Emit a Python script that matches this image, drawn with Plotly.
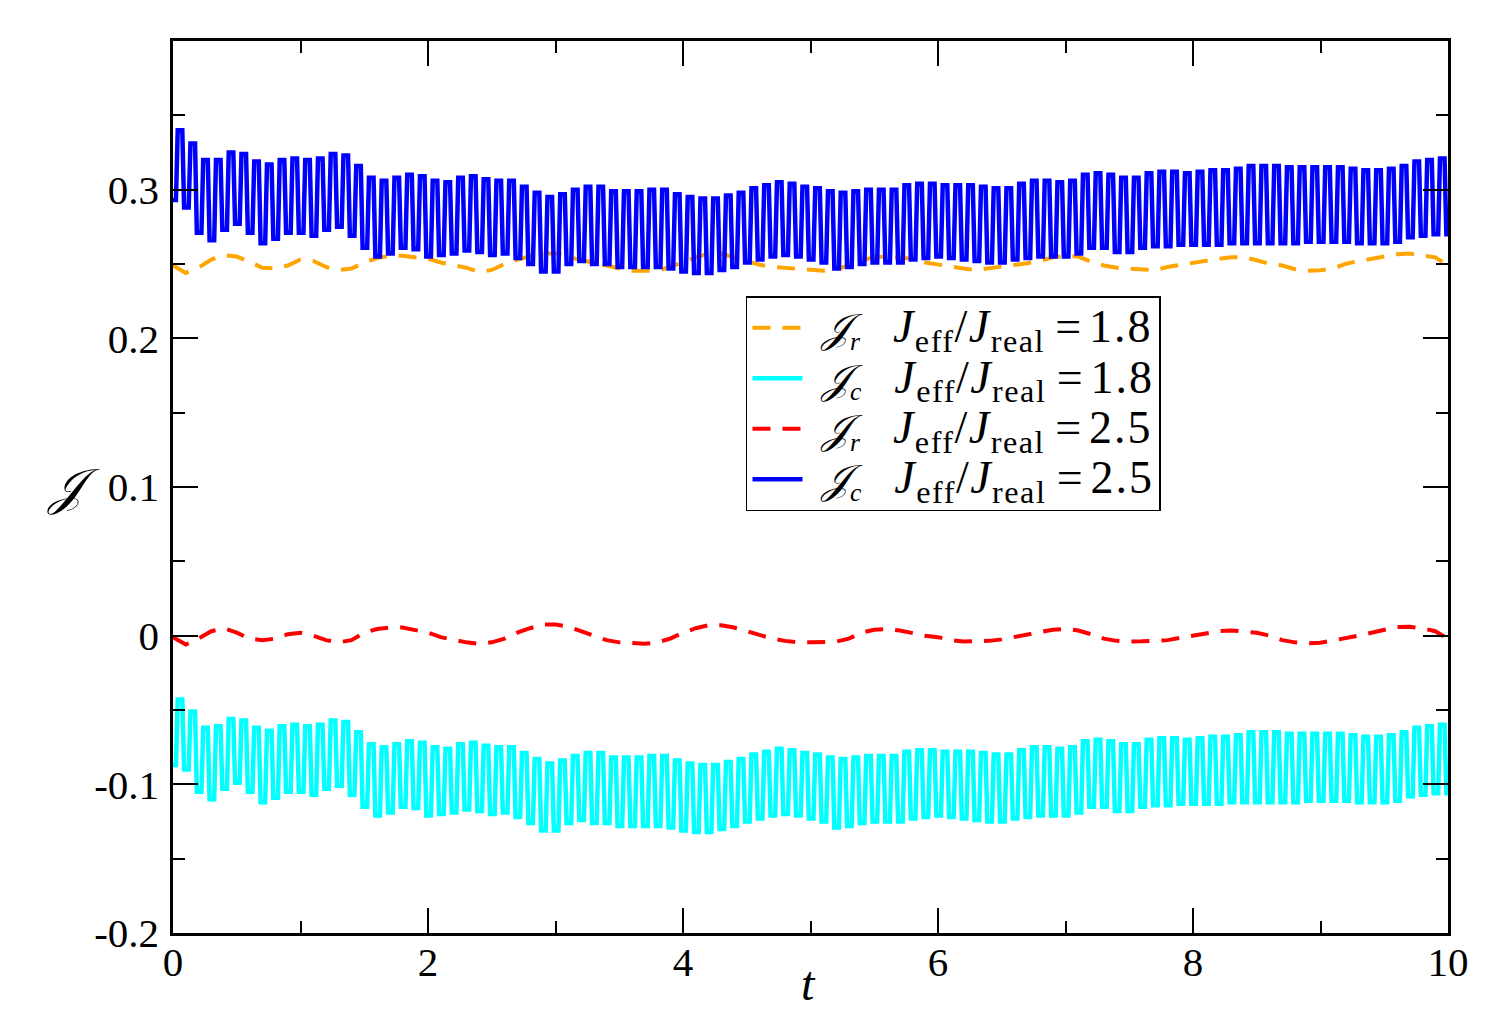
import plotly.graph_objects as go

# ---------------- data ----------------
period = 0.1
first_peak_t = 0.055
blue_start = 0.293
cyan_start = -0.087

blue_high = [0.340, 0.331, 0.320, 0.320, 0.325, 0.324, 0.319, 0.317, 0.320, 0.321,
             0.320, 0.321, 0.324, 0.323, 0.316, 0.308, 0.306, 0.308, 0.310, 0.309,
             0.306, 0.305, 0.308, 0.309, 0.307, 0.306, 0.306, 0.302, 0.298, 0.295,
             0.297, 0.300, 0.302, 0.302, 0.299, 0.299, 0.299, 0.300, 0.300, 0.297,
             0.295, 0.294, 0.294, 0.296, 0.298, 0.301, 0.303, 0.305, 0.304, 0.302,
             0.301, 0.299, 0.298, 0.299, 0.300, 0.300, 0.300, 0.303, 0.304, 0.304,
             0.303, 0.303, 0.303, 0.302, 0.301, 0.301, 0.304, 0.306, 0.306, 0.305,
             0.306, 0.310, 0.311, 0.310, 0.308, 0.308, 0.311, 0.312, 0.312, 0.311,
             0.312, 0.313, 0.313, 0.314, 0.316, 0.316, 0.316, 0.315, 0.315, 0.315,
             0.315, 0.315, 0.314, 0.313, 0.313, 0.314, 0.316, 0.319, 0.320, 0.321]

blue_low = [0.288, 0.271, 0.266, 0.273, 0.277, 0.271, 0.264, 0.267, 0.271, 0.271,
            0.269, 0.273, 0.275, 0.269, 0.261, 0.255, 0.257, 0.261, 0.260, 0.255,
            0.256, 0.257, 0.259, 0.258, 0.256, 0.257, 0.254, 0.250, 0.245, 0.245,
            0.250, 0.252, 0.250, 0.250, 0.248, 0.248, 0.248, 0.248, 0.247, 0.245,
            0.244, 0.244, 0.246, 0.248, 0.251, 0.253, 0.255, 0.256, 0.255, 0.253,
            0.251, 0.247, 0.248, 0.250, 0.251, 0.251, 0.251, 0.253, 0.254, 0.255,
            0.254, 0.253, 0.252, 0.251, 0.251, 0.253, 0.254, 0.255, 0.255, 0.255,
            0.257, 0.261, 0.261, 0.258, 0.258, 0.261, 0.262, 0.262, 0.263, 0.263,
            0.263, 0.263, 0.264, 0.264, 0.264, 0.264, 0.264, 0.264, 0.265, 0.265,
            0.265, 0.265, 0.264, 0.264, 0.264, 0.265, 0.268, 0.269, 0.270, 0.270]

cyan_high = [-0.043, -0.051, -0.062, -0.061, -0.056, -0.057, -0.062, -0.064, -0.061, -0.060,
             -0.061, -0.060, -0.057, -0.058, -0.065, -0.073, -0.075, -0.073, -0.071, -0.072,
             -0.075, -0.076, -0.073, -0.072, -0.074, -0.075, -0.075, -0.079, -0.083, -0.086,
             -0.084, -0.081, -0.079, -0.079, -0.082, -0.082, -0.082, -0.081, -0.081, -0.084,
             -0.086, -0.087, -0.087, -0.085, -0.083, -0.080, -0.078, -0.076, -0.077, -0.079,
             -0.080, -0.082, -0.083, -0.082, -0.081, -0.081, -0.081, -0.078, -0.077, -0.077,
             -0.078, -0.078, -0.078, -0.079, -0.080, -0.080, -0.077, -0.075, -0.075, -0.076,
             -0.075, -0.071, -0.070, -0.071, -0.073, -0.073, -0.070, -0.069, -0.069, -0.070,
             -0.069, -0.068, -0.068, -0.067, -0.065, -0.065, -0.065, -0.066, -0.066, -0.066,
             -0.066, -0.066, -0.067, -0.068, -0.068, -0.067, -0.065, -0.062, -0.061, -0.060]

cyan_low = [-0.090, -0.105, -0.110, -0.103, -0.099, -0.105, -0.112, -0.109, -0.105, -0.105,
            -0.107, -0.103, -0.101, -0.107, -0.115, -0.121, -0.119, -0.115, -0.116, -0.121,
            -0.120, -0.119, -0.117, -0.118, -0.120, -0.119, -0.122, -0.126, -0.131, -0.131,
            -0.126, -0.124, -0.126, -0.126, -0.128, -0.128, -0.128, -0.128, -0.129, -0.131,
            -0.132, -0.132, -0.130, -0.128, -0.125, -0.123, -0.121, -0.120, -0.121, -0.123,
            -0.125, -0.129, -0.128, -0.126, -0.125, -0.125, -0.125, -0.123, -0.122, -0.121,
            -0.122, -0.123, -0.124, -0.125, -0.125, -0.123, -0.122, -0.121, -0.121, -0.121,
            -0.119, -0.115, -0.115, -0.118, -0.118, -0.115, -0.114, -0.114, -0.113, -0.113,
            -0.113, -0.113, -0.112, -0.112, -0.112, -0.112, -0.112, -0.112, -0.111, -0.111,
            -0.111, -0.111, -0.112, -0.112, -0.112, -0.111, -0.108, -0.107, -0.106, -0.106]

t_slow = [round(0.1 * i, 1) for i in range(101)]

orange_r = [0.249, 0.244, 0.2475, 0.253, 0.256, 0.255, 0.2515, 0.2475, 0.247, 0.249,
            0.253, 0.252, 0.248, 0.246, 0.247, 0.251, 0.254, 0.2555, 0.2555, 0.2548,
            0.2535, 0.251, 0.249, 0.2475, 0.2445, 0.246, 0.250, 0.253, 0.255, 0.257,
            0.2572, 0.2545, 0.2525, 0.251, 0.2487, 0.247, 0.2455, 0.2452, 0.2455, 0.248,
            0.2515, 0.2545, 0.257, 0.257, 0.2545, 0.252, 0.2495, 0.248, 0.2475, 0.2465,
            0.246, 0.2455, 0.2465, 0.249, 0.2525, 0.2545, 0.255, 0.2545, 0.2535, 0.251,
            0.2495, 0.2485, 0.247, 0.246, 0.247, 0.2485, 0.2495, 0.2505, 0.252, 0.2545,
            0.2555, 0.255, 0.2515, 0.249, 0.2475, 0.247, 0.2465, 0.2458, 0.248, 0.2495,
            0.2505, 0.252, 0.2535, 0.2545, 0.2545, 0.2525, 0.250, 0.249, 0.2465, 0.2455,
            0.2458, 0.247, 0.2502, 0.252, 0.2535, 0.2555, 0.2565, 0.257, 0.256, 0.2545,
            0.249]

red_r = [-0.001, -0.006, -0.002, 0.003, 0.005, 0.002, -0.002, -0.003, -0.002, 0.001,
         0.002, 0.000, -0.003, -0.0045, -0.003, 0.002, 0.0045, 0.0055, 0.0055, 0.004,
         0.002, -0.001, -0.003, -0.0045, -0.0055, -0.0045, -0.002, 0.002, 0.005, 0.0075,
         0.0075, 0.006, 0.003, 0.000, -0.003, -0.0045, -0.005, -0.0055, -0.0045, -0.002,
         0.002, 0.005, 0.007, 0.007, 0.0055, 0.003, 0.000, -0.002, -0.0035, -0.0045,
         -0.0045, -0.0045, -0.004, -0.002, 0.002, 0.004, 0.0045, 0.0035, 0.0015, 0.000,
         -0.001, -0.003, -0.004, -0.004, -0.0035, -0.0025, -0.001, 0.0005, 0.002, 0.004,
         0.0045, 0.0035, 0.001, -0.002, -0.0035, -0.004, -0.0038, -0.0033, -0.003, -0.0015,
         0.000, 0.002, 0.003, 0.0035, 0.003, 0.002, 0.000, -0.003, -0.0045, -0.0052,
         -0.0048, -0.0033, -0.002, 0.000, 0.002, 0.0038, 0.0058, 0.006, 0.005, 0.003,
         -0.002]

y_tick_vals = [-0.2, -0.1, 0.0, 0.1, 0.2, 0.3]
y_tick_text = ["-0.2", "-0.1", "0", "0.1", "0.2", "0.3"]
x_tick_vals = [0, 2, 4, 6, 8, 10]
x_tick_text = ["0", "2", "4", "6", "8", "10"]

ratio_values = ["1.8", "1.8", "2.5", "2.5"]
current_kind = ["r", "c", "r", "c"]


def legend_label(kind, value):
    return ("\u2009\u2009<span style='font-size:40px'><i>𝒥</i></span><sub><i>%s</i></sub>"
            "\u2002\u2009\u2009<span style='font-size:46px;letter-spacing:1.5px'><i>J</i><sub>eff</sub>"
            "/<i>J</i><sub>real</sub></span>\u2009\u200a"
            "<span style='font-size:46px;letter-spacing:2px'>=\u200a%s</span>" % (kind, value))


labels = [legend_label(k, v) for k, v in zip(current_kind, ratio_values)]


def square_wave(start, highs, lows):
    """Build a rectangular oscillation from per-cycle peak and trough readings."""
    rise, edge = 0.032, 0.018
    ts, ys = [0.0], [start]
    prev = start
    for k, (h, l) in enumerate(zip(highs, lows)):
        tp = first_peak_t + period * k
        ts += [tp - rise, tp - edge, tp + edge, tp + rise]
        ys += [prev, h, h, l]
        prev = l
    ts.append(10.0)
    ys.append(prev)
    return ts, ys


tb, yb = square_wave(blue_start, blue_high, blue_low)
tc, yc = square_wave(cyan_start, cyan_high, cyan_low)

FONT = "Liberation Serif"

fig = go.Figure()
fig.add_trace(go.Scatter(x=t_slow, y=orange_r, mode="lines", name=labels[0],
                         line=dict(color="#FFA500", width=4, dash="18px,12px")))
fig.add_trace(go.Scatter(x=tc, y=yc, mode="lines", name=labels[1],
                         line=dict(color="#00FFFF", width=4.5)))
fig.add_trace(go.Scatter(x=t_slow, y=red_r, mode="lines", name=labels[2],
                         line=dict(color="#FF0000", width=4, dash="18px,12px")))
fig.add_trace(go.Scatter(x=tb, y=yb, mode="lines", name=labels[3],
                         line=dict(color="#0000FF", width=4.5)))

axis_common = dict(
    showline=True, linecolor="black", linewidth=2.5, mirror="ticks",
    ticks="inside", ticklen=25, tickwidth=2, tickcolor="black",
    showgrid=False, zeroline=False,
    tickfont=dict(family=FONT, size=41, color="black"),
)

fig.update_xaxes(range=[0, 10], tickmode="array", tickvals=x_tick_vals, ticktext=x_tick_text,
                 ticklabelstandoff=-9,
                 minor=dict(dtick=1, tick0=0, ticks="inside", ticklen=12, tickwidth=2,
                            tickcolor="black", showgrid=False),
                 **axis_common)
fig.update_yaxes(range=[-0.2, 0.4], tickmode="array", tickvals=y_tick_vals, ticktext=y_tick_text,
                 ticklabelstandoff=3,
                 minor=dict(dtick=0.05, tick0=0, ticks="inside", ticklen=12, tickwidth=2,
                            tickcolor="black", showgrid=False),
                 **axis_common)

fig.update_layout(
    width=1487, height=1025,
    margin=dict(l=173, r=39, t=41, b=92),
    paper_bgcolor="white", plot_bgcolor="white",
    showlegend=True,
    legend=dict(x=0.4494, y=0.714, xanchor="left", yanchor="top",
                bgcolor="white", bordercolor="black", borderwidth=1.5,
                font=dict(family=FONT, size=36.5, color="black"),
                itemwidth=50, tracegroupgap=0),
    annotations=[
        dict(text="<i>t</i>", x=0.4985, y=-0.025, xref="paper", yref="paper",
             xanchor="center", yanchor="top", showarrow=False,
             font=dict(family=FONT, size=48, color="black")),
        dict(text="<i>𝒥</i>", x=-0.078, y=0.5, xref="paper", yref="paper",
             xanchor="center", yanchor="middle", showarrow=False,
             font=dict(family=FONT, size=50, color="black")),
    ],
)

fig.write_html("out.html")
